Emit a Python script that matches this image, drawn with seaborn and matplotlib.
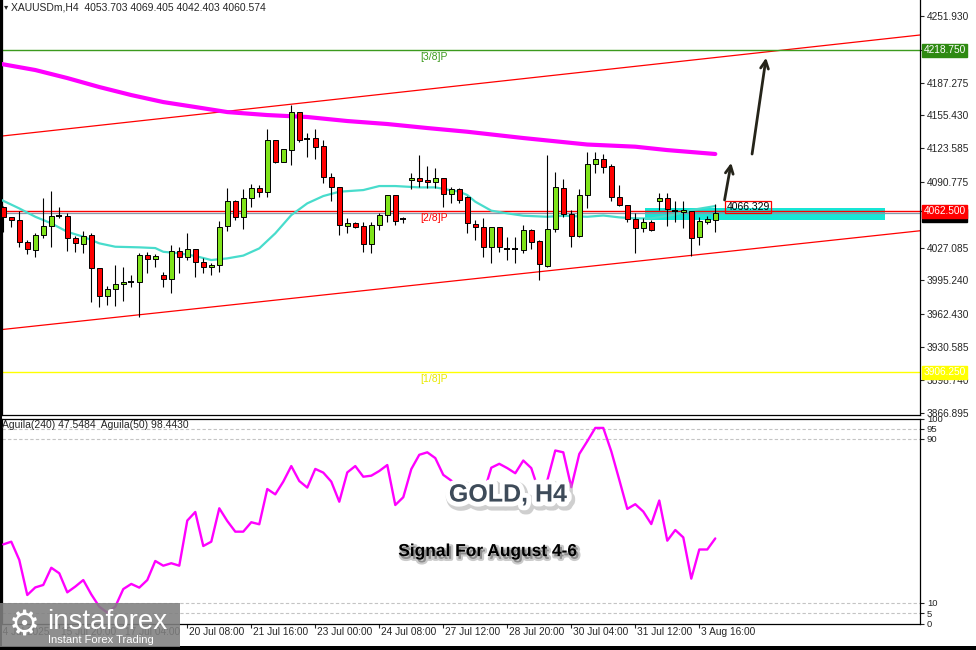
import matplotlib
matplotlib.use("Agg")
import numpy as np
import matplotlib.pyplot as plt
import matplotlib.patheffects as pe
import matplotlib.transforms as mtransforms
import matplotlib.patches as mpatches
import seaborn as sns

# ---- candle data (H4, XAUUSDm) ----
opens = [4066.8, 4056.8, 4053.9, 4032.2, 4024.5, 4039.0, 4047.8, 4057.8, 4058.1, 4036.1,
         4030.9, 4039.3, 4007.0, 3980.4, 3986.6, 3991.5, 3994.0, 3994.0, 4019.9, 4015.7,
         4000.5, 3996.3, 4024.1, 4017.7, 4025.4, 4012.8, 4008.3, 4010.2, 4048.1, 4072.3,
         4056.5, 4075.0, 4084.7, 4080.8, 4131.2, 4110.5, 4121.8, 4159.0, 4132.5, 4133.2,
         4125.7, 4095.3, 4085.6, 4048.4, 4050.7, 4048.1, 4030.3, 4049.0, 4058.5, 4077.9,
         4054.6, 4092.7, 4094.4, 4092.4, 4090.5, 4094.4, 4079.1, 4083.7, 4076.2, 4049.7,
         4047.4, 4028.0, 4046.8, 4025.7, 4025.4, 4024.8, 4044.2, 4033.4, 4009.2, 4044.9,
         4084.7, 4059.7, 4038.4, 4077.9, 4108.0, 4112.8, 4106.3, 4075.9, 4068.2, 4054.6,
         4045.8, 4051.7, 4072.8, 4075.0, 4063.1, 4061.4, 4062.8, 4037.1, 4052.2, 4053.703]
highs = [4067.5, 4056.8, 4062.9, 4034.5, 4041.0, 4075.5, 4082.0, 4066.2, 4061.0, 4038.7,
         4043.2, 4041.0, 4007.0, 3990.1, 4010.2, 4008.0, 4000.5, 4021.6, 4023.1, 4020.6,
         4003.7, 4029.6, 4027.4, 4041.0, 4025.4, 4016.7, 4011.9, 4052.9, 4084.7, 4073.3,
         4083.7, 4088.6, 4087.9, 4142.2, 4131.5, 4122.8, 4165.5, 4159.0, 4138.0, 4141.9,
         4131.5, 4099.2, 4086.2, 4055.5, 4052.2, 4052.2, 4052.2, 4061.0, 4078.5, 4078.5,
         4057.1, 4099.2, 4117.0, 4106.6, 4104.6, 4094.4, 4086.2, 4084.7, 4077.2, 4053.9,
         4055.5, 4047.4, 4047.4, 4037.7, 4037.7, 4049.0, 4045.2, 4034.5, 4117.0, 4100.8,
         4093.4, 4063.6, 4084.3, 4120.2, 4120.2, 4117.7, 4108.0, 4087.9, 4068.2, 4060.4,
         4056.0, 4053.9, 4080.1, 4080.1, 4072.0, 4072.0, 4063.1, 4057.1, 4057.9, 4069.405]
lows = [4042.5, 4046.8, 4028.0, 4020.9, 4017.7, 4036.1, 4027.4, 4055.5, 4024.1, 4022.8,
        4021.6, 3974.0, 3969.7, 3971.7, 3970.7, 3975.6, 3988.6, 3960.0, 4002.8, 4008.6,
        3989.2, 3982.7, 4002.2, 4015.1, 3998.3, 4002.2, 4000.2, 4003.7, 4043.5, 4053.9,
        4044.9, 4066.8, 4076.5, 4076.5, 4109.2, 4110.2, 4107.0, 4129.3, 4115.3, 4112.8,
        4090.1, 4072.6, 4039.3, 4041.0, 4045.8, 4023.1, 4022.2, 4044.2, 4052.2, 4049.0,
        4051.3, 4083.7, 4086.2, 4084.7, 4084.7, 4066.2, 4070.7, 4070.7, 4041.0, 4034.5,
        4017.7, 4011.9, 4023.1, 4015.1, 4011.9, 4022.2, 4025.4, 3996.0, 4008.6, 4042.5,
        4057.1, 4028.0, 4037.1, 4065.2, 4099.2, 4099.2, 4072.5, 4067.5, 4052.4, 4021.6,
        4042.1, 4043.5, 4063.6, 4047.8, 4052.2, 4045.8, 4019.4, 4030.0, 4049.7, 4042.403]
closes = [4056.5, 4053.9, 4032.2, 4025.4, 4039.0, 4047.8, 4057.5, 4057.8, 4036.1, 4031.3,
          4038.7, 4007.6, 3980.4, 3986.6, 3991.5, 3993.4, 3994.0, 4019.9, 4015.7, 4019.0,
          3996.3, 4024.1, 4017.7, 4025.4, 4012.8, 4008.0, 4010.2, 4046.8, 4072.3, 4056.5,
          4075.0, 4084.7, 4080.8, 4131.2, 4110.5, 4122.5, 4159.0, 4131.5, 4132.5, 4125.0,
          4095.9, 4086.2, 4049.3, 4050.7, 4047.4, 4030.3, 4049.0, 4058.5, 4077.9, 4053.2,
          4054.6, 4094.4, 4091.7, 4090.5, 4094.4, 4079.1, 4083.7, 4073.3, 4051.0, 4047.4,
          4028.0, 4046.8, 4027.4, 4025.7, 4025.4, 4044.2, 4032.9, 4010.8, 4044.9, 4085.6,
          4059.7, 4038.4, 4077.9, 4108.0, 4112.8, 4105.6, 4075.9, 4068.3, 4054.6, 4045.8,
          4051.7, 4043.9, 4075.0, 4065.1, 4063.1, 4063.3, 4036.1, 4053.1, 4054.8, 4060.574]

# moving averages read at a few candles
ma200_idx = [-0.2, 4, 8, 12, 16, 20, 24, 28, 33, 38, 43, 48, 53, 58, 65, 73, 79, 83, 89]
ma200_val = [4205.3, 4199.5, 4191.7, 4183.0, 4175.2, 4168.4, 4163.6, 4158.7, 4155.8, 4153.9,
             4150.0, 4147.1, 4143.2, 4139.6, 4133.5, 4127.2, 4125.1, 4121.8, 4118.0]
ma21_idx = [-0.2, 2, 4, 6, 8, 10, 12, 14, 17, 19, 20, 22, 24, 26, 28, 30, 32, 34, 36, 38,
            40, 42, 45, 47, 49, 52, 54, 57, 58, 59, 61, 63, 65, 68, 70, 73, 75, 77, 79, 81,
            84, 86, 88, 89]
ma21_val = [4073.3, 4065.2, 4057.1, 4050.7, 4042.5, 4037.7, 4031.3, 4028.0, 4027.4, 4026.7,
            4023.1, 4021.6, 4019.0, 4015.1, 4016.7, 4019.4, 4026.4, 4041.0, 4058.7, 4070.1,
            4077.2, 4081.4, 4083.0, 4086.9, 4086.9, 4085.6, 4085.6, 4081.4, 4078.2, 4071.7,
            4063.0, 4060.4, 4058.1, 4057.1, 4058.1, 4057.1, 4058.3, 4056.5, 4055.5, 4055.5,
            4059.2, 4063.6, 4066.2, 4067.5]

# channel (index, price) endpoints
chan_x = [-0.2, 114.6]
chan_upper = [4135.4, 4233.5]
chan_lower = [3947.6, 4043.5]

# murrey levels
lvl_prices = [4218.750, 4062.500, 3906.250]
lvl_names = ["[3/8]P", "[2/8]P", "[1/8]P"]
lvl_colors = ["#3c9a1e", "#ff0000", "#ffff00"]
lvl_text_colors = ["#3c9a1e", "#ff0000", "#e8e800"]
lvl_box_colors = ["#2e8a12", "#ff0000", "#ffff00"]
last_price = 4060.574

zone_lo, zone_hi = 4053.9, 4065.2
zone_x = [80.2, 110.2]
target_label = 4066.329

arrow1 = [(90.1, 4070.7), (91.05, 4112.1)]
arrow2 = [(93.55, 4115.3), (95.4, 4214.1)]

price_ticks = [4251.930, 4218.750, 4187.275, 4155.430, 4123.585, 4090.775, 4062.500,
               4027.085, 3995.240, 3962.430, 3930.585, 3898.740, 3866.895]

# Aguila(50) oscillator
aguila = [38.6, 39.9, 31.0, 13.9, 17.6, 18.8, 27.2, 24.5, 15.2, 18.0,
          21.2, 14.2, 8.2, 5.3, 8.2, 16.8, 19.3, 17.5, 21.2, 30.5,
          28.2, 29.4, 28.2, 50.2, 54.4, 37.8, 39.9, 56.2, 50.0, 44.8,
          44.8, 49.4, 48.4, 65.6, 63.0, 69.2, 76.8, 69.5, 66.3, 75.4,
          73.6, 69.2, 59.4, 73.7, 76.8, 71.6, 72.1, 74.4, 77.3, 57.8,
          61.6, 75.3, 82.3, 83.5, 80.7, 72.5, 69.7, 66.0, 60.0, 58.0,
          63.0, 76.0, 77.9, 75.8, 73.3, 79.5, 75.8, 64.0, 69.7, 84.4,
          83.5, 66.5, 82.7, 88.9, 95.4, 95.4, 84.0, 70.1, 55.9, 58.2,
          54.6, 48.5, 60.0, 40.4, 45.6, 42.0, 21.9, 36.1, 36.1, 41.5]
osc_levels = [95, 90, 10, 5]
osc_ticks = [0, 5, 10, 90, 95, 100]

xlab_pos = [-1, 7, 15, 23, 31, 39, 47, 55, 63, 71, 79, 87]
xlab_text = ["14 Jul 2025", "15 Jul 20:00", "17 Jul 04:00", "20 Jul 08:00", "21 Jul 16:00",
             "23 Jul 00:00", "24 Jul 08:00", "27 Jul 12:00", "28 Jul 20:00", "30 Jul 04:00",
             "31 Jul 12:00", "3 Aug 16:00"]

sns.set_style("white")
plt.rcParams["font.family"] = ["Liberation Sans", "DejaVu Sans"]

W, H = 976, 650
fig = plt.figure(figsize=(W / 100, H / 100), dpi=100)


def px_rect(x0, y0, x1, y1):
    return [x0 / W, 1 - y1 / H, (x1 - x0) / W, (y1 - y0) / H]


ax = fig.add_axes(px_rect(2, 0, 920, 415))
axi = fig.add_axes(px_rect(2, 418.5, 920, 623.5), sharex=ax)

o = np.array(opens)
h = np.array(highs)
l = np.array(lows)
c = np.array(closes)
idx = np.arange(len(o))

# channel + levels
sns.lineplot(x=chan_x, y=chan_upper, ax=ax, color="red", linewidth=0.9, zorder=2)
sns.lineplot(x=chan_x, y=chan_lower, ax=ax, color="red", linewidth=0.9, zorder=2)
for p, nm, col, tcol in zip(lvl_prices, lvl_names, lvl_colors, lvl_text_colors):
    ax.axhline(p, color=col, lw=1.0, zorder=2)
    ax.text(52.1, p - 1.5, nm, color=tcol, fontsize=7.5, va="top", ha="left", zorder=5)
ax.axhline(last_price, color="#8797a8", lw=0.9, zorder=2)

# zone
ax.add_patch(mpatches.Rectangle((zone_x[0], zone_lo), zone_x[1] - zone_x[0], zone_hi - zone_lo,
                                facecolor="#17e6d6", edgecolor="none", zorder=1.5))

# MAs
sns.lineplot(x=ma200_idx, y=ma200_val, ax=ax, color="#ff00ff", linewidth=3.0, zorder=3)
sns.lineplot(x=ma21_idx, y=ma21_val, ax=ax, color="#48dccc", linewidth=1.6, zorder=3)

# candles
doji = np.abs(c - o) < 0.5
bull = c > o
ax.vlines(idx, l, h, color="black", lw=0.8, zorder=4)
body_col = np.where(bull, "#7fe31a", "#ff0000")
nd = ~doji
ax.bar(idx[nd], np.abs(c - o)[nd], bottom=np.minimum(o, c)[nd], width=0.62,
       color=body_col[nd], edgecolor="black", linewidth=0.7, zorder=5)
ax.hlines(o[doji], idx[doji] - 0.35, idx[doji] + 0.35, color="black", lw=1.4, zorder=5)

# target label
ax.text(90.4, target_label, "4066.329", fontsize=7.5, color="black", va="center", ha="left",
        zorder=6, bbox=dict(boxstyle="square,pad=0.12", fc="none", ec="red", lw=0.9))

# arrows
for a in (arrow1, arrow2):
    ax.annotate("", xy=a[1], xytext=a[0],
                arrowprops=dict(arrowstyle="->", color="#25241a", lw=2.0, mutation_scale=14),
                zorder=6)

ax.set_xlim(-0.16, 114.59)
ax.set_ylim(3864.7, 4267.46)
ax.set_xlabel("")
ax.set_ylabel("")
ax.yaxis.tick_right()
ax.set_yticks(price_ticks)
# the two level prices get coloured boxes instead of plain labels
ax.set_yticklabels(["" if v in lvl_prices else f"{v:.3f}" for v in price_ticks])
ax.tick_params(axis="y", right=True, length=3, width=0.8, pad=2, labelsize=7.3, direction="out")
ax.tick_params(axis="x", bottom=False, labelbottom=False)
ax.spines["top"].set_visible(False)
for s in ("left", "right", "bottom"):
    ax.spines[s].set_color("black")
    ax.spines[s].set_linewidth(0.9)

# right-side price boxes
ytr = mtransforms.blended_transform_factory(ax.transAxes, ax.transData)
ax.text(1.004, last_price - 1.8, "4060.574", transform=ytr, fontsize=7.3, color="white",
        va="center", ha="left", zorder=7,
        bbox=dict(boxstyle="square,pad=0.15", fc="black", ec="black"), clip_on=False)
for p, bc in zip(lvl_prices, lvl_box_colors):
    ax.text(1.004, p, f"{p:.3f}", transform=ytr, fontsize=7.3, color="white",
            va="center", ha="left", zorder=8,
            bbox=dict(boxstyle="square,pad=0.15", fc=bc, ec=bc), clip_on=False)

ax.text(0.002, 0.983, "\u25be", transform=ax.transAxes, fontsize=6, va="center", ha="left",
        family=["DejaVu Sans"])
ax.text(0.0095, 0.983, "XAUUSDm,H4  4053.703 4069.405 4042.403 4060.574",
        transform=ax.transAxes, fontsize=7.5, va="center", ha="left")

# oscillator
for lv in osc_levels:
    axi.axhline(lv, color="#c4c4c4", lw=0.8, ls=(0, (3, 2)), zorder=1)
sns.lineplot(x=idx, y=aguila, ax=axi, color="#ff00ff", linewidth=1.7, zorder=3)
axi.set_ylim(0, 100)
axi.set_xlabel("")
axi.set_ylabel("")
axi.yaxis.tick_right()
axi.set_yticks(osc_ticks)
axi.set_yticklabels([str(v) for v in osc_ticks])
axi.tick_params(axis="y", right=True, length=3, width=0.8, pad=2, labelsize=6.8, direction="out")
axi.set_xticks([p for p in xlab_pos if p >= 0])
axi.tick_params(axis="x", bottom=True, length=3, width=0.8, direction="out", labelbottom=False)
for s in axi.spines.values():
    s.set_color("black")
    s.set_linewidth(0.9)
xtr = mtransforms.blended_transform_factory(axi.transData, axi.transAxes)
for p, t in zip(xlab_pos, xlab_text):
    axi.text(p + 0.2, -0.018, t, transform=xtr, fontsize=7.3, va="top", ha="left", clip_on=False)

axi.text(0.0, 0.968, "Aguila(240) 47.5484  Aguila(50) 98.4430", transform=axi.transAxes,
         fontsize=7.5, va="center", ha="left")

axi.text(0.551, 0.629, "GOLD, H4", transform=axi.transAxes, fontsize=18, fontweight="bold",
         color="#3e4b59", ha="center", va="center", zorder=8,
         path_effects=[pe.Stroke(linewidth=9, foreground="#a0a0a0", alpha=0.5, offset=(1.5, -2)),
                       pe.Stroke(linewidth=7, foreground="white"), pe.Normal()])
axi.text(0.5294, 0.351, "Signal For August 4-6", transform=axi.transAxes, fontsize=12.5,
         fontweight="bold", color="black", ha="center", va="center", zorder=8,
         path_effects=[pe.Stroke(linewidth=3, foreground="#a8a8a8", alpha=0.6, offset=(1.5, -2)),
                       pe.Normal()])

# frame bits and logo
fig.add_artist(mpatches.Rectangle((0, 0), 2 / W, 1, transform=fig.transFigure,
                                  facecolor="black", edgecolor="none", zorder=9))
fig.add_artist(mpatches.Rectangle((0, 0), 1, 4 / H, transform=fig.transFigure,
                                  facecolor="black", edgecolor="none", zorder=9))
fig.add_artist(mpatches.Rectangle((0, 3 / H), 180 / W, 44 / H, transform=fig.transFigure,
                                  facecolor="#808080", alpha=0.88, edgecolor="none", zorder=10))
fig.text(24 / W, 1 - 625 / H, "\u2699", color="white", fontsize=25, ha="center", va="center",
         family=["DejaVu Sans"], zorder=11)
fig.text(47 / W, 1 - 622 / H, "instaforex", color="white", fontsize=20, ha="left", va="center",
         zorder=11)
fig.text(48 / W, 1 - 640 / H, "Instant Forex Trading", color="white", fontsize=8, ha="left",
         va="center", zorder=11)

fig.savefig("out.png", dpi=100)
